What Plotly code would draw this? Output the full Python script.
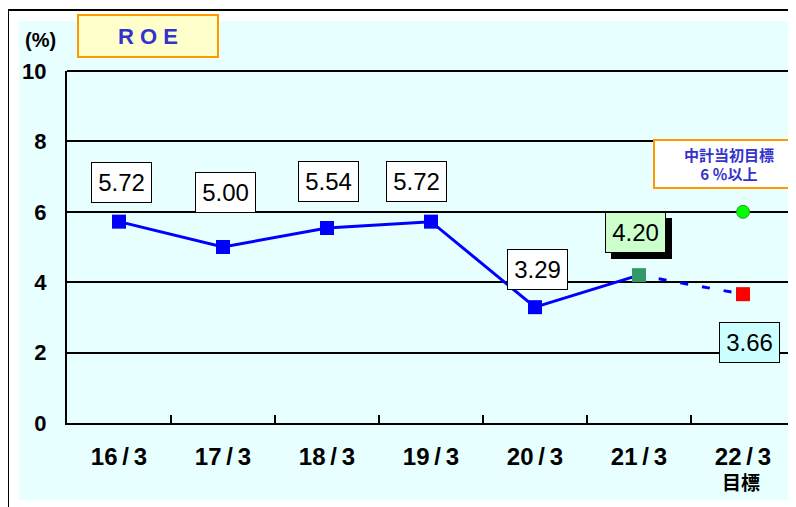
import plotly.graph_objects as go

categories = ["16/3", "17/3", "18/3", "19/3", "20/3", "21/3", "22/3"]
tick_text = ["16\u2009/\u20093", "17\u2009/\u20093", "18\u2009/\u20093", "19\u2009/\u20093",
             "20\u2009/\u20093", "21\u2009/\u20093", "22\u2009/\u20093"]
actual_cats = categories[:6]
actual_roe = [5.72, 5.00, 5.54, 5.72, 3.29, 4.20]
target_roe = 3.66
initial_target = 6.0
label_text = ["5.72", "5.00", "5.54", "5.72", "3.29", "4.20", "3.66"]
y_ticks = [0, 2, 4, 6, 8, 10]

FONT = "Liberation Sans, Arial, sans-serif"
CJK = "Noto Sans CJK JP, sans-serif"
CYAN = "#E8FFFF"

# page offset compensation (page body margin)
OFF = 8
W, H = 796, 507
# plot area in reference pixels: x 67..795, y 71..423
L, R, T, B = 67 - OFF, 795 - OFF, 71 - OFF, 423 - OFF


def px(xp):
    return (xp - OFF - L) / (R - L)


def py(yp):
    return (B - (yp - OFF)) / (B - T)


fig = go.Figure()

# actual line
fig.add_trace(go.Scatter(
    x=actual_cats, y=actual_roe, mode="lines+markers",
    line=dict(color="#0000FF", width=3),
    marker=dict(symbol="square", size=14,
                color=["#0000FF"] * 5 + ["#339966"], line=dict(width=0)),
    showlegend=False, hoverinfo="skip"))

# dashed projection
fig.add_trace(go.Scatter(
    x=[categories[5], categories[6]], y=[actual_roe[5], target_roe], mode="lines",
    line=dict(color="#0000FF", width=3,
              dash="0px,20px,8px,14px,8px,14px,8px,14px,8px,14px,8px,14px"),
    showlegend=False, hoverinfo="skip"))

# target marker
fig.add_trace(go.Scatter(
    x=[categories[6]], y=[target_roe], mode="markers",
    marker=dict(symbol="square", size=14, color="#FF0000", line=dict(width=0)),
    showlegend=False, hoverinfo="skip"))

# initial target marker
fig.add_trace(go.Scatter(
    x=[categories[6]], y=[initial_target], mode="markers",
    marker=dict(symbol="circle", size=13, color="#00FF00",
                line=dict(color="#339933", width=1)),
    showlegend=False, hoverinfo="skip"))

shapes = [
    dict(type="rect", xref="paper", yref="paper", x0=px(19), x1=px(793),
         y0=py(500), y1=py(21), fillcolor=CYAN, line=dict(width=0), layer="below"),
    dict(type="line", xref="paper", yref="paper", x0=px(8), x1=px(810),
         y0=py(10), y1=py(10), line=dict(color="#000000", width=2)),
    dict(type="line", xref="paper", yref="paper", x0=px(8), x1=px(8),
         y0=py(10), y1=py(520), line=dict(color="#000000", width=2)),
    # top gridline at the axis maximum (paper-referenced so it is not clipped)
    dict(type="line", xref="paper", yref="paper", x0=0, x1=1,
         y0=1, y1=1, line=dict(color="#000000", width=2)),
]

annotations = []
# value label boxes: (index, y position, xshift, bg)
label_pos = [
    (0, 6.83, 2.5, "#FFFFFF"),
    (1, 6.56, 2, "#FFFFFF"),
    (2, 6.87, 1, "#FFFFFF"),
    (3, 6.87, -14.5, "#FFFFFF"),
    (4, 4.36, 2, "#FFFFFF"),
    (5, 5.41, -4, "#CCFFCC"),
    (6, 2.30, 6.5, "#CCFFFF"),
]
for i, yv, xs, bg in label_pos:
    if i == 5:
        annotations.append(dict(
            x=categories[i], y=yv, xref="x", yref="y", text="", showarrow=False,
            xanchor="center", yanchor="middle",
            xshift=xs + 6, yshift=-6, width=59, height=39, borderpad=0,
            bgcolor="#000000", bordercolor="#000000", borderwidth=1))
    annotations.append(dict(
        x=categories[i], y=yv, xref="x", yref="y", text=label_text[i], showarrow=False,
        xanchor="center", yanchor="middle",
        xshift=xs, width=59, height=39, borderpad=0,
        bgcolor=bg, bordercolor="#000000", borderwidth=1,
        font=dict(family=FONT, size=24, color="#000000")))

# ROE title box
annotations.append(dict(
    x=px(148), y=py(36), xref="paper", yref="paper", text="<b>R O E</b>",
    xanchor="center", yanchor="middle",
    showarrow=False, width=136, height=38, borderpad=1,
    bgcolor="#FFFFCC", bordercolor="#FF9900", borderwidth=2,
    font=dict(family=FONT, size=22, color="#3333CC")))

# initial target box
annotations.append(dict(
    x=px(729), y=py(163.5), xref="paper", yref="paper",
    text="<b>中計当初目標<br>6 ％以上</b>",
    xanchor="center", yanchor="middle",
    showarrow=False, width=146, height=44, borderpad=1,
    bgcolor="#FFFFFF", bordercolor="#FF9900", borderwidth=2,
    font=dict(family=CJK, size=15, color="#3333CC")))

# (%) unit
annotations.append(dict(
    x=px(40), y=py(40), xref="paper", yref="paper", text="<b>(%)</b>",
    xanchor="center", yanchor="middle",
    showarrow=False, font=dict(family=FONT, size=20, color="#000000")))

# 目標 under 22/3
annotations.append(dict(
    x=categories[6], y=py(482), xref="x", yref="paper", text="<b>目標</b>",
    xanchor="center", yanchor="middle",
    showarrow=False, xshift=-2, font=dict(family=CJK, size=19, color="#000000")))

fig.update_layout(
    width=W, height=H,
    margin=dict(l=L, r=W - R, t=T, b=H - B, autoexpand=False),
    paper_bgcolor="#FFFFFF", plot_bgcolor=CYAN,
    shapes=shapes, annotations=annotations,
    xaxis=dict(
        type="category", categoryorder="array", categoryarray=categories,
        range=[-0.5, 6.5], tickmode="array", tickvals=categories, ticktext=tick_text,
        showline=True, linecolor="#000000", linewidth=2,
        ticks="inside", tickson="boundaries", ticklen=8, tickwidth=1.5, tickcolor="#000000",
        showgrid=False, zeroline=False, ticklabelstandoff=11, automargin=False,
        tickfont=dict(family=FONT, size=24, color="#000000", weight="bold"),
    ),
    yaxis=dict(
        range=[0, 10], tickmode="array", tickvals=y_ticks,
        showline=True, linecolor="#000000", linewidth=2,
        ticks="inside", ticklen=12, tickwidth=1.5, tickcolor="#000000",
        showgrid=True, gridcolor="#000000", gridwidth=1.5, zeroline=False,
        ticklabelstandoff=14, automargin=False,
        tickfont=dict(family=FONT, size=22, color="#000000", weight="bold"),
    ),
)

fig.write_html("out.html")
